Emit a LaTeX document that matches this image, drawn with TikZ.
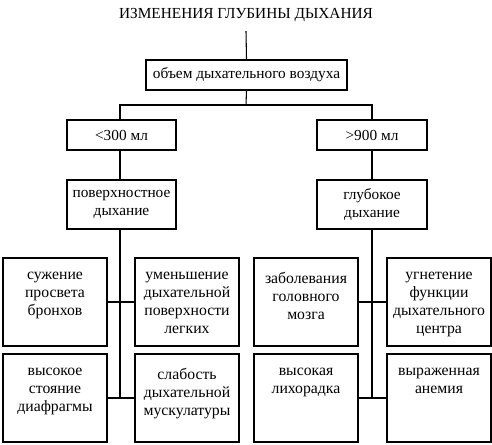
\documentclass[tikz,border=0pt]{standalone}
\usepackage{fontspec}
\setmainfont{Liberation Serif}
\begin{document}
\begin{tikzpicture}[x=0.75pt,y=-0.75pt,
  font=\fontsize{11.5}{13.7}\selectfont,
  box/.style={draw, line width=0.8pt, inner sep=0pt},
  txt/.style={anchor=north, align=center, inner sep=0pt, text width=100*0.75pt, font=\fontsize{11.8}{13.7}\selectfont},
  line/.style={line width=0.8pt}]
\useasboundingbox (0,0) rectangle (492,444);
\node[inner sep=1pt] (title) at (246,15) {ИЗМЕНЕНИЯ ГЛУБИНЫ ДЫХАНИЯ};
% level 1
\node[box, minimum width=201*0.75pt, minimum height=30*0.75pt] (obj) at (246.5,75) {объем дыхательного воздуха};
\node[box, minimum width=109*0.75pt, minimum height=30*0.75pt] (l300) at (121.5,135) {<300 мл};
\node[box, minimum width=110*0.75pt, minimum height=30*0.75pt] (r900) at (372,135) {>900 мл};
\node[box, minimum width=109*0.75pt, minimum height=49*0.75pt, align=center] (shallow) at (121.5,204.5) {поверхностное\\дыхание};
\node[box, minimum width=110*0.75pt, minimum height=49*0.75pt, align=center] (deep) at (372,204.5) {глубокое\\дыхание};
% bottom boxes
\tikzset{bbox/.style={box, minimum width=104*0.75pt, minimum height=88*0.75pt}}
\node[bbox] (b1) at (55,302) {};
\node[bbox] (b2) at (187,302) {};
\node[bbox] (b3) at (55,398) {};
\node[bbox] (b4) at (187,398) {};
\node[bbox] (b5) at (306,302) {};
\node[bbox] (b6) at (439,302) {};
\node[bbox] (b7) at (306,398) {};
\node[bbox] (b8) at (439,398) {};
\node[txt] (t1) at ([yshift=-14*0.75pt]b1.north) {сужение\\просвета\\бронхов};
\node[txt] (t2) at ([yshift=-14*0.75pt]b2.north) {уменьшение\\дыхательной\\поверхности\\легких};
\node[txt] (t3) at ([yshift=-14*0.75pt]b3.north) {высокое\\стояние\\диафрагмы};
\node[txt] (t4) at ([yshift=-14*0.75pt]b4.north) {слабость\\дыхательной\\мускулатуры};
\node[txt] (t5) at ([yshift=-14*0.75pt]b5.north) {заболевания\\головного\\мозга};
\node[txt] (t6) at ([yshift=-14*0.75pt]b6.north) {угнетение\\функции\\дыхательного\\центра};
\node[txt] (t7) at ([yshift=-14*0.75pt]b7.north) {высокая\\лихорадка};
\node[txt] (t8) at ([yshift=-14*0.75pt]b8.north) {выраженная\\анемия};
% connectors
\coordinate (top) at (246,31);
\coordinate (split) at (246,105);
\coordinate (lend) at (120,398);
\coordinate (rend) at (372,398);
\draw[line] (top) -- (obj.north);
\draw[line] (obj.south) -- (split);
\draw[line] (split) -| (l300.north -| lend);
\draw[line] (split) -| (r900.north -| rend);
\draw[line] (l300.south -| lend) -- (shallow.north -| lend);
\draw[line] (r900.south -| rend) -- (deep.north -| rend);
\draw[line] (shallow.south -| lend) -- (lend);
\draw[line] (deep.south -| rend) -- (rend);
\draw[line] (b1.east) -- (b2.west);
\draw[line] (b3.east) -- (b4.west);
\draw[line] (b5.east) -- (b6.west);
\draw[line] (b7.east) -- (b8.west);
\end{tikzpicture}
\end{document}
